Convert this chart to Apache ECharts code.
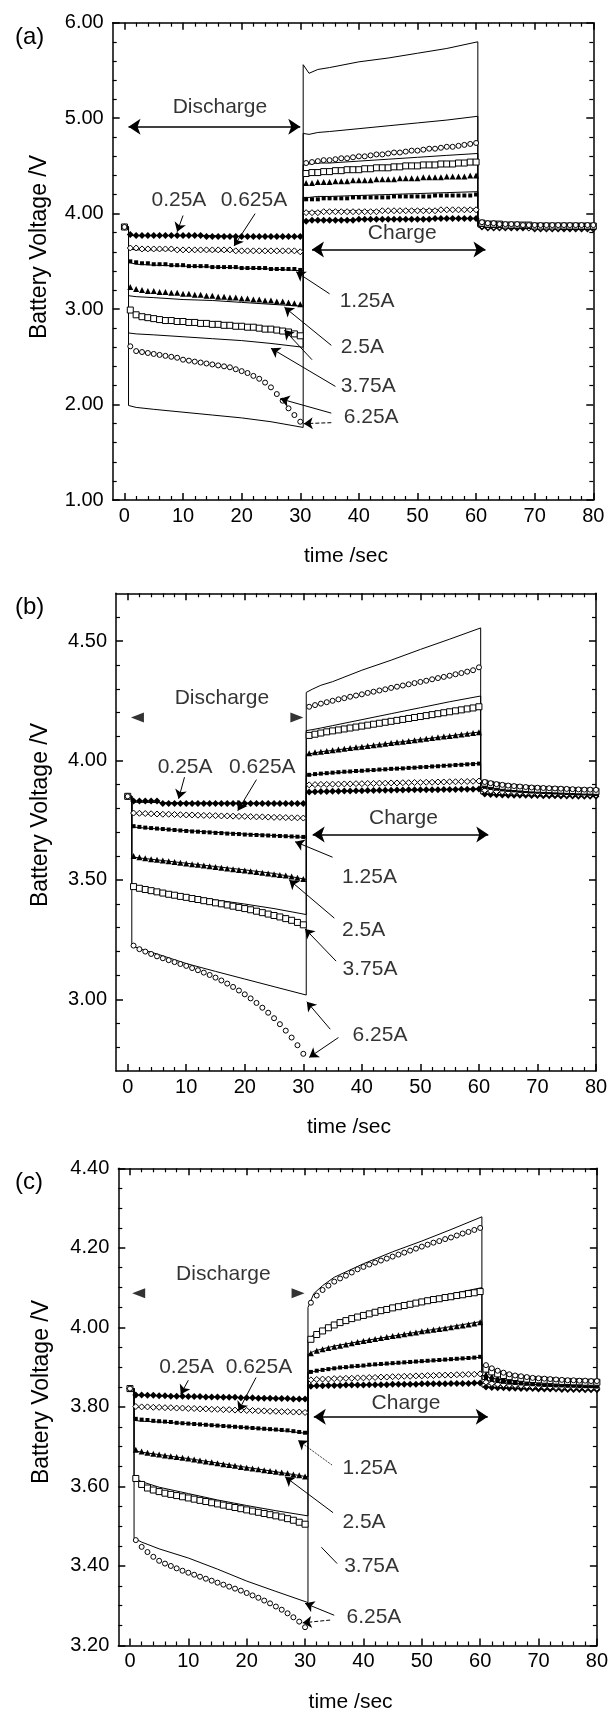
<!DOCTYPE html>
<html><head><meta charset="utf-8">
<script src="https://cdn.jsdelivr.net/npm/echarts@6/dist/echarts.min.js"></script>
<style>html,body{margin:0;padding:0;background:#fff}#c{width:611px;height:1714px}</style>
</head><body><div id="c"></div>
<script>
// ---------- tick arrays ----------
const xMajor = [0,10,20,30,40,50,60,70,80];
const xMinor = [2,4,6,8,12,14,16,18,22,24,26,28,32,34,36,38,42,44,46,48,52,54,56,58,62,64,66,68,72,74,76,78];
const yMajorA = [1,2,3,4,5,6];
const yMinorA = [1.2,1.4,1.6,1.8,2.2,2.4,2.6,2.8,3.2,3.4,3.6,3.8,4.2,4.4,4.6,4.8,5.2,5.4,5.6,5.8];
const yMajorB = [3.0,3.5,4.0,4.5];
const yMinorB = [2.8,2.9,3.1,3.2,3.3,3.4,3.6,3.7,3.8,3.9,4.1,4.2,4.3,4.4,4.6];
const yMajorC = [3.2,3.4,3.6,3.8,4.0,4.2,4.4];
const yMinorC = [3.25,3.3,3.35,3.45,3.5,3.55,3.65,3.7,3.75,3.85,3.9,3.95,4.05,4.1,4.15,4.25,4.3,4.35];

// ---------- categories ----------
const currents = ['0.25A','0.625A','1.25A','2.5A','3.75A','6.25A'];

// experimental sample times (discharge 1-30, charge 31-60, rest 61-80)
const tExp = [1,2,3,4,5,6,7,8,9,10,11,12,13,14,15,16,17,18,19,20,21,22,23,24,25,26,27,28,29,30,
  31,32,33,34,35,36,37,38,39,40,41,42,43,44,45,46,47,48,49,50,51,52,53,54,55,56,57,58,59,60,
  61,62,63,64,65,66,67,68,69,70,71,72,73,74,75,76,77,78,79,80];
// simulation vertex times
const simT = [0,0.7,0.7,2,5,10,15,20,25,30.5,30.5,31.5,33,35,40,45,50,55,60.3,60.3,62,65,70,80];

// ---------- panel (a) ----------
const startA = 3.86;
const A_025 = [3.78,3.77,3.77,3.77,3.77,3.77,3.77,3.77,3.77,3.77, 3.77,3.77,3.77,3.76,3.76,3.76,3.76,3.76,3.76,3.76, 3.76,3.76,3.76,3.76,3.76,3.76,3.76,3.76,3.76,3.76,
  3.92,3.93,3.93,3.93,3.93,3.93,3.93,3.93,3.93,3.94, 3.94,3.94,3.94,3.94,3.94,3.94,3.94,3.94,3.94,3.94, 3.94,3.94,3.95,3.95,3.95,3.95,3.95,3.95,3.95,3.95,
  3.86,3.85,3.85,3.85,3.85,3.85,3.85,3.85,3.85,3.84, 3.84,3.84,3.84,3.84,3.84,3.84,3.84,3.84,3.84,3.84];
const A_0625 = [3.64,3.64,3.63,3.63,3.63,3.63,3.63,3.63,3.62,3.62, 3.62,3.62,3.62,3.62,3.62,3.62,3.62,3.62,3.61,3.61, 3.61,3.61,3.61,3.61,3.61,3.61,3.61,3.61,3.61,3.60,
  4.01,4.01,4.01,4.02,4.02,4.02,4.02,4.02,4.02,4.02, 4.02,4.02,4.02,4.03,4.03,4.03,4.03,4.03,4.03,4.03, 4.03,4.03,4.03,4.04,4.04,4.04,4.04,4.04,4.04,4.04,
  3.87,3.86,3.86,3.86,3.86,3.86,3.86,3.86,3.85,3.85, 3.85,3.85,3.85,3.85,3.85,3.85,3.85,3.85,3.85,3.85];
const A_125 = [3.50,3.49,3.48,3.48,3.47,3.47,3.47,3.46,3.46,3.46, 3.45,3.45,3.45,3.45,3.44,3.44,3.44,3.44,3.44,3.43, 3.43,3.43,3.43,3.43,3.42,3.42,3.42,3.42,3.42,3.41,
  4.15,4.15,4.15,4.16,4.16,4.16,4.16,4.16,4.17,4.17, 4.17,4.17,4.17,4.17,4.17,4.18,4.18,4.18,4.18,4.18, 4.18,4.18,4.19,4.19,4.19,4.19,4.19,4.19,4.19,4.20,
  3.88,3.87,3.87,3.87,3.87,3.86,3.86,3.86,3.86,3.86, 3.86,3.86,3.86,3.86,3.86,3.86,3.86,3.86,3.86,3.86];
const A_25 = [3.23,3.21,3.20,3.19,3.19,3.18,3.18,3.17,3.17,3.16, 3.16,3.15,3.15,3.14,3.14,3.13,3.13,3.12,3.12,3.11, 3.11,3.10,3.10,3.09,3.09,3.08,3.08,3.07,3.06,3.05,
  4.32,4.32,4.33,4.33,4.33,4.34,4.34,4.34,4.35,4.35, 4.35,4.35,4.36,4.36,4.36,4.36,4.37,4.37,4.37,4.37, 4.38,4.38,4.38,4.38,4.39,4.39,4.39,4.39,4.40,4.40,
  3.89,3.88,3.88,3.88,3.88,3.87,3.87,3.87,3.87,3.87, 3.87,3.87,3.87,3.87,3.86,3.86,3.86,3.86,3.86,3.86];
const A_375 = [2.99,2.94,2.92,2.91,2.90,2.89,2.88,2.88,2.87,2.87, 2.86,2.86,2.85,2.85,2.84,2.84,2.83,2.83,2.82,2.82, 2.81,2.81,2.80,2.79,2.79,2.78,2.77,2.76,2.74,2.72,
  4.42,4.43,4.43,4.44,4.44,4.45,4.45,4.46,4.46,4.46, 4.47,4.47,4.48,4.48,4.48,4.49,4.49,4.50,4.50,4.50, 4.51,4.51,4.51,4.52,4.52,4.52,4.53,4.53,4.54,4.54,
  3.90,3.89,3.89,3.89,3.88,3.88,3.88,3.88,3.88,3.87, 3.87,3.87,3.87,3.87,3.87,3.87,3.87,3.87,3.87,3.87];
const A_625 = [2.61,2.56,2.55,2.54,2.53,2.52,2.51,2.50,2.49,2.47, 2.46,2.45,2.44,2.43,2.42,2.41,2.40,2.39,2.37,2.35, 2.33,2.30,2.27,2.23,2.18,2.11,2.04,1.96,1.89,1.82,
  4.53,4.54,4.55,4.56,4.56,4.57,4.58,4.58,4.59,4.60, 4.60,4.61,4.62,4.62,4.63,4.64,4.64,4.65,4.66,4.66, 4.67,4.68,4.68,4.69,4.70,4.70,4.71,4.72,4.73,4.74,
  3.91,3.90,3.90,3.89,3.89,3.89,3.89,3.88,3.88,3.88, 3.88,3.88,3.88,3.88,3.88,3.88,3.88,3.88,3.88,3.88];
const AS_025 = [3.86,3.86,3.77,3.77,3.77,3.77,3.77,3.76,3.76,3.76, 3.93,3.93,3.93,3.93,3.94,3.94,3.94,3.95,3.95, 3.86,3.85,3.85,3.84,3.84];
const AS_0625 = [3.86,3.86,3.63,3.62,3.62,3.62,3.61,3.61,3.61,3.60, 4.02,4.02,4.02,4.03,4.03,4.03,4.04,4.04,4.05, 3.87,3.86,3.86,3.85,3.85];
const AS_125 = [3.86,3.86,3.49,3.47,3.46,3.45,3.44,3.43,3.42,3.40, 4.17,4.17,4.18,4.18,4.19,4.20,4.21,4.22,4.23, 3.88,3.87,3.86,3.86,3.86];
const AS_25 = [3.86,3.86,3.14,3.13,3.12,3.10,3.09,3.07,3.05,3.03, 4.51,4.52,4.53,4.53,4.55,4.57,4.59,4.61,4.63, 3.89,3.88,3.87,3.87,3.86];
const AS_375 = [3.86,3.86,2.75,2.74,2.73,2.71,2.69,2.67,2.64,2.60, 4.84,4.83,4.85,4.86,4.89,4.92,4.95,4.98,5.02, 3.90,3.89,3.88,3.87,3.87];
const AS_625 = [3.86,3.86,1.99,1.97,1.95,1.92,1.89,1.86,1.82,1.76, 5.56,5.47,5.51,5.53,5.59,5.63,5.68,5.73,5.80, 3.91,3.90,3.89,3.88,3.88];

// ---------- panel (b) ----------
const startB = 3.85;
const B_025 = [3.83,3.83,3.83,3.83,3.83,3.82,3.82,3.82,3.82,3.82, 3.82,3.82,3.82,3.82,3.82,3.82,3.82,3.82,3.82,3.82, 3.82,3.82,3.82,3.82,3.82,3.82,3.82,3.82,3.82,3.82,
  3.868,3.869,3.870,3.870,3.871,3.871,3.872,3.872,3.873,3.873, 3.874,3.874,3.875,3.875,3.875,3.876,3.876,3.877,3.877,3.877, 3.878,3.878,3.878,3.879,3.879,3.879,3.880,3.880,3.880,3.881,
  3.860,3.858,3.857,3.856,3.855,3.855,3.854,3.854,3.853,3.853, 3.852,3.852,3.852,3.851,3.851,3.851,3.850,3.850,3.850,3.850];
const B_0625 = [3.780,3.779,3.778,3.777,3.776,3.775,3.775,3.774,3.773,3.772, 3.772,3.771,3.770,3.770,3.769,3.768,3.768,3.767,3.766,3.766, 3.765,3.764,3.764,3.763,3.762,3.762,3.761,3.760,3.760,3.759,
  3.898,3.899,3.900,3.900,3.901,3.901,3.902,3.902,3.903,3.903, 3.904,3.904,3.905,3.905,3.906,3.906,3.907,3.907,3.908,3.908, 3.909,3.909,3.910,3.910,3.911,3.911,3.912,3.912,3.913,3.914,
  3.875,3.872,3.870,3.868,3.867,3.866,3.865,3.864,3.863,3.862, 3.861,3.860,3.860,3.859,3.858,3.858,3.857,3.857,3.856,3.856];
const B_125 = [3.725,3.722,3.719,3.717,3.715,3.713,3.711,3.709,3.707,3.705, 3.703,3.702,3.700,3.699,3.697,3.696,3.694,3.693,3.692,3.690, 3.689,3.688,3.687,3.686,3.685,3.684,3.683,3.682,3.681,3.680,
  3.940,3.943,3.945,3.947,3.949,3.951,3.953,3.954,3.956,3.957, 3.959,3.960,3.962,3.963,3.965,3.966,3.967,3.969,3.970,3.972, 3.973,3.975,3.976,3.978,3.979,3.981,3.982,3.984,3.985,3.987,
  3.890,3.885,3.882,3.879,3.877,3.875,3.873,3.872,3.870,3.869, 3.868,3.867,3.866,3.865,3.864,3.863,3.862,3.862,3.861,3.860];
const B_25 = [3.600,3.595,3.591,3.587,3.584,3.581,3.578,3.575,3.572,3.569, 3.566,3.563,3.560,3.557,3.554,3.551,3.548,3.545,3.542,3.539, 3.536,3.533,3.530,3.527,3.524,3.521,3.518,3.514,3.509,3.504,
  4.030,4.034,4.037,4.040,4.043,4.046,4.049,4.052,4.055,4.058, 4.061,4.064,4.067,4.070,4.073,4.076,4.079,4.082,4.085,4.088, 4.091,4.094,4.097,4.100,4.103,4.106,4.109,4.112,4.115,4.118,
  3.900,3.895,3.891,3.887,3.884,3.882,3.880,3.878,3.877,3.875, 3.874,3.873,3.872,3.871,3.870,3.869,3.868,3.868,3.867,3.866];
const B_375 = [3.472,3.465,3.460,3.455,3.450,3.445,3.440,3.436,3.431,3.427, 3.422,3.418,3.413,3.409,3.404,3.400,3.395,3.390,3.385,3.380, 3.375,3.369,3.363,3.357,3.351,3.345,3.338,3.331,3.322,3.312,
  4.105,4.110,4.115,4.120,4.124,4.128,4.132,4.136,4.140,4.144, 4.148,4.152,4.156,4.160,4.164,4.168,4.172,4.176,4.180,4.184, 4.188,4.192,4.196,4.200,4.204,4.208,4.212,4.216,4.220,4.225,
  3.905,3.900,3.896,3.892,3.889,3.887,3.885,3.883,3.881,3.880, 3.879,3.878,3.877,3.876,3.875,3.874,3.873,3.872,3.872,3.871];
const B_625 = [3.225,3.210,3.200,3.190,3.180,3.172,3.164,3.156,3.148,3.140, 3.131,3.122,3.112,3.102,3.091,3.079,3.066,3.052,3.037,3.021, 3.004,2.985,2.965,2.944,2.921,2.896,2.869,2.840,2.808,2.772,
  4.225,4.232,4.238,4.244,4.250,4.256,4.261,4.267,4.272,4.277, 4.283,4.288,4.293,4.298,4.304,4.309,4.314,4.319,4.324,4.329, 4.334,4.340,4.345,4.350,4.355,4.361,4.366,4.372,4.378,4.390,
  3.910,3.905,3.901,3.898,3.895,3.893,3.891,3.889,3.887,3.886, 3.885,3.884,3.883,3.882,3.881,3.880,3.879,3.878,3.878,3.877];
const BS_025 = [3.85,3.85,3.825,3.825,3.824,3.823,3.822,3.822,3.821,3.820, 3.868,3.869,3.870,3.871,3.873,3.875,3.877,3.879,3.881, 3.860,3.857,3.855,3.852,3.850];
const BS_0625 = [3.85,3.85,3.778,3.777,3.775,3.772,3.769,3.766,3.762,3.758, 3.895,3.896,3.897,3.899,3.902,3.905,3.908,3.911,3.914, 3.872,3.868,3.864,3.860,3.856];
const BS_125 = [3.85,3.85,3.722,3.719,3.714,3.706,3.699,3.692,3.686,3.678, 3.938,3.940,3.944,3.948,3.956,3.964,3.972,3.980,3.988, 3.888,3.882,3.876,3.869,3.860];
const BS_25 = [3.85,3.85,3.597,3.592,3.584,3.570,3.556,3.542,3.527,3.502, 4.025,4.030,4.037,4.042,4.058,4.073,4.088,4.103,4.120, 3.900,3.892,3.885,3.876,3.866];
const BS_375 = [3.85,3.85,3.465,3.460,3.450,3.433,3.416,3.399,3.380,3.355, 4.125,4.129,4.136,4.146,4.171,4.196,4.221,4.246,4.270, 3.905,3.897,3.889,3.880,3.871];
const BS_625 = [3.85,3.85,3.225,3.212,3.190,3.150,3.117,3.085,3.053,3.018, 4.285,4.298,4.315,4.330,4.378,4.420,4.465,4.508,4.555, 3.915,3.905,3.895,3.885,3.878];

// ---------- panel (c) ----------
const startC = 3.846;
const C_025 = [3.830,3.830,3.829,3.829,3.828,3.828,3.827,3.827,3.827,3.826, 3.826,3.826,3.825,3.825,3.825,3.824,3.824,3.824,3.823,3.823, 3.823,3.822,3.822,3.822,3.821,3.821,3.821,3.820,3.820,3.820,
  3.852,3.853,3.853,3.854,3.854,3.854,3.855,3.855,3.855,3.855, 3.856,3.856,3.856,3.856,3.857,3.857,3.857,3.857,3.857,3.858, 3.858,3.858,3.858,3.858,3.859,3.859,3.859,3.859,3.860,3.860,
  3.850,3.849,3.848,3.848,3.847,3.847,3.846,3.846,3.846,3.845, 3.845,3.845,3.845,3.844,3.844,3.844,3.844,3.843,3.843,3.843];
const C_0625 = [3.801,3.800,3.800,3.799,3.799,3.798,3.798,3.797,3.797,3.796, 3.796,3.795,3.795,3.794,3.794,3.793,3.793,3.792,3.792,3.791, 3.791,3.790,3.790,3.789,3.789,3.788,3.788,3.787,3.787,3.786,
  3.868,3.869,3.870,3.870,3.871,3.871,3.872,3.872,3.873,3.873, 3.874,3.874,3.875,3.875,3.876,3.876,3.877,3.877,3.878,3.878, 3.879,3.879,3.880,3.880,3.880,3.881,3.881,3.882,3.882,3.883,
  3.862,3.859,3.857,3.856,3.855,3.854,3.853,3.852,3.851,3.851, 3.850,3.850,3.849,3.849,3.848,3.848,3.848,3.847,3.847,3.847];
const C_125 = [3.770,3.768,3.767,3.765,3.764,3.763,3.762,3.760,3.759,3.758, 3.757,3.756,3.755,3.754,3.753,3.752,3.751,3.750,3.749,3.748, 3.747,3.746,3.745,3.744,3.743,3.742,3.741,3.739,3.737,3.735,
  3.888,3.891,3.893,3.895,3.897,3.899,3.900,3.902,3.903,3.904, 3.906,3.907,3.908,3.909,3.910,3.911,3.912,3.913,3.914,3.915, 3.916,3.917,3.918,3.919,3.920,3.921,3.922,3.923,3.924,3.926,
  3.872,3.868,3.865,3.863,3.861,3.860,3.859,3.858,3.857,3.856, 3.855,3.855,3.854,3.854,3.853,3.853,3.852,3.852,3.852,3.851];
const C_25 = [3.692,3.688,3.685,3.682,3.680,3.678,3.676,3.674,3.672,3.670, 3.668,3.665,3.663,3.661,3.658,3.656,3.654,3.652,3.649,3.647, 3.645,3.643,3.641,3.639,3.637,3.635,3.633,3.630,3.628,3.625,
  3.935,3.941,3.945,3.948,3.951,3.954,3.957,3.960,3.963,3.966, 3.968,3.971,3.973,3.976,3.978,3.980,3.983,3.985,3.987,3.990, 3.992,3.994,3.996,3.998,4.000,4.003,4.005,4.007,4.010,4.013,
  3.882,3.877,3.873,3.870,3.868,3.866,3.865,3.864,3.863,3.862, 3.861,3.860,3.860,3.859,3.859,3.858,3.858,3.857,3.857,3.857];
const C_375 = [3.620,3.605,3.596,3.591,3.587,3.583,3.580,3.577,3.574,3.571, 3.568,3.565,3.562,3.559,3.556,3.553,3.550,3.547,3.544,3.541, 3.538,3.535,3.532,3.529,3.526,3.523,3.519,3.515,3.510,3.505,
  3.970,3.982,3.991,3.999,4.006,4.012,4.017,4.022,4.026,4.030, 4.034,4.038,4.042,4.045,4.049,4.052,4.055,4.058,4.061,4.064, 4.067,4.070,4.072,4.075,4.077,4.080,4.082,4.085,4.087,4.090,
  3.895,3.888,3.883,3.879,3.876,3.874,3.872,3.870,3.869,3.868, 3.867,3.866,3.865,3.864,3.864,3.863,3.863,3.862,3.862,3.862];
const C_625 = [3.465,3.448,3.435,3.423,3.413,3.406,3.400,3.394,3.388,3.383, 3.378,3.373,3.368,3.363,3.358,3.353,3.348,3.343,3.338,3.332, 3.326,3.320,3.313,3.306,3.298,3.290,3.281,3.271,3.260,3.246,
  4.062,4.080,4.094,4.105,4.115,4.123,4.130,4.138,4.146,4.152, 4.158,4.163,4.168,4.173,4.178,4.183,4.188,4.193,4.198,4.203, 4.208,4.213,4.217,4.222,4.226,4.231,4.236,4.240,4.245,4.250,
  3.905,3.897,3.891,3.886,3.882,3.879,3.877,3.875,3.873,3.872, 3.871,3.870,3.869,3.868,3.867,3.867,3.866,3.866,3.865,3.865];
const CS_025 = [3.846,3.846,3.830,3.829,3.828,3.826,3.825,3.823,3.822,3.820, 3.852,3.853,3.854,3.855,3.856,3.857,3.858,3.859,3.860, 3.850,3.848,3.847,3.845,3.843];
const CS_0625 = [3.846,3.846,3.800,3.799,3.798,3.796,3.794,3.792,3.790,3.786, 3.866,3.868,3.870,3.872,3.874,3.876,3.878,3.880,3.882, 3.860,3.856,3.853,3.850,3.847];
const CS_125 = [3.846,3.846,3.766,3.764,3.762,3.758,3.753,3.748,3.742,3.733, 3.885,3.889,3.893,3.897,3.903,3.909,3.914,3.919,3.925, 3.870,3.864,3.859,3.856,3.851];
const CS_25 = [3.846,3.846,3.690,3.686,3.680,3.670,3.659,3.648,3.637,3.624, 3.932,3.940,3.946,3.953,3.966,3.978,3.990,4.002,4.015, 3.880,3.872,3.866,3.862,3.857];
const CS_375 = [3.846,3.846,3.620,3.612,3.598,3.582,3.566,3.552,3.539,3.526, 3.968,3.982,3.996,4.008,4.030,4.050,4.068,4.084,4.100, 3.893,3.882,3.874,3.868,3.862];
const CS_625 = [3.846,3.846,3.470,3.460,3.443,3.420,3.392,3.362,3.336,3.308, 4.050,4.085,4.105,4.126,4.160,4.190,4.217,4.246,4.278, 3.905,3.892,3.882,3.874,3.866];

// ---------- build ----------
const FONT = '"Liberation Sans", Arial, Helvetica, sans-serif';
const BLACK = '#000';
const markerStyles = [
  {symbol:'diamond', size:7, fill:BLACK},
  {symbol:'diamond', size:6, fill:'#fff'},
  {symbol:'rect', size:4, fill:BLACK},
  {symbol:'triangle', size:6, fill:BLACK},
  {symbol:'rect', size:6, fill:'#fff'},
  {symbol:'circle', size:5, fill:'#fff'}
];

const panels = [
  {label:'(a)', labelTop:20, yTitleX:40, yTitleY:247, grid:{left:112.7, top:22.7, width:480.6, height:477.3},
   yMin:1, yMax:6, yMajor:yMajorA, yMinor:yMinorA, start:startA,
   exp:[A_025,A_0625,A_125,A_25,A_375,A_625], sim:[AS_025,AS_0625,AS_125,AS_25,AS_375,AS_625],
   texts:[['Discharge',16.3,5.11],['0.25A',9.3,4.14],['0.625A',22.1,4.14],['Charge',47.4,3.80],
          ['1.25A',41.4,3.08],['2.5A',40.6,2.60],['3.75A',41.6,2.19],['6.25A',42.1,1.87]],
   arrows:[[10.0,3.98,9.0,3.81,'solid'],[22.3,4.00,18.7,3.66,'solid'],[35.0,3.16,29.3,3.39,'solid'],
           [35.3,2.62,27.3,3.02,'solid'],[36.0,2.19,25.0,2.59,'solid'],[32.0,2.47,27.3,2.78,'solid'],
           [35.3,1.91,26.6,2.06,'solid'],[35.3,1.81,30.6,1.80,'dashed']],
   doubles:[[0.7,4.91,30.0,4.91],[32.0,3.625,61.6,3.625]],
   plain:[], heads:[]},
  {label:'(b)', labelTop:590, yTitleX:41, yTitleY:815, grid:{left:116, top:593.3, width:480, height:477.7},
   yMin:2.7, yMax:4.7, yMajor:yMajorB, yMinor:yMinorB, start:startB,
   exp:[B_025,B_0625,B_125,B_25,B_375,B_625], sim:[BS_025,BS_0625,BS_125,BS_25,BS_375,BS_625],
   texts:[['Discharge',16.1,4.26],['0.25A',9.8,3.97],['0.625A',23.0,3.97],['Charge',47.1,3.76],
          ['1.25A',41.3,3.51],['2.5A',40.3,3.29],['3.75A',41.4,3.125],['6.25A',43.1,2.85]],
   arrows:[[9.7,3.93,8.7,3.84,'solid'],[22.0,3.92,18.8,3.79,'solid'],[35.0,3.595,28.6,3.66,'solid'],
           [35.3,3.34,27.6,3.50,'solid'],[35.6,3.16,30.3,3.295,'solid'],
           [34.6,2.875,30.6,2.99,'solid'],[36.0,2.84,31.0,2.757,'solid']],
   doubles:[[31.6,3.69,61.6,3.69]],
   plain:[], heads:[[1.66,4.18,90],[28.9,4.18,-90]]},
  {label:'(c)', labelTop:1165, yTitleX:42, yTitleY:1392, grid:{left:118.3, top:1168.3, width:480, height:477.2},
   yMin:3.2, yMax:4.4, yMajor:yMajorC, yMinor:yMinorC, start:startC,
   exp:[C_025,C_0625,C_125,C_25,C_375,C_625], sim:[CS_025,CS_0625,CS_125,CS_25,CS_375,CS_625],
   texts:[['Discharge',16.0,4.134],['0.25A',9.7,3.90],['0.625A',22.1,3.90],['Charge',47.3,3.81],
          ['1.25A',41.1,3.645],['2.5A',40.1,3.511],['3.75A',41.4,3.40],['6.25A',41.8,3.27]],
   arrows:[[10.0,3.867,8.7,3.832,'solid'],[21.6,3.874,18.6,3.79,'solid'],[34.6,3.654,28.8,3.716,'dotted'],
           [34.8,3.534,26.6,3.624,'solid'],[35.0,3.276,30.0,3.306,'solid'],[34.3,3.264,29.6,3.257,'dashed']],
   doubles:[[31.5,3.775,61.3,3.775]],
   plain:[[35.5,3.406,32.8,3.447]], heads:[[1.49,4.086,90],[28.8,4.086,-90]]}
];

const option = {
  animation:false, backgroundColor:'#fff',
  textStyle:{fontFamily:FONT},
  title:[], grid:[], xAxis:[], yAxis:[], series:[], graphic:[]
};
const lineC = {color:BLACK, width:1.5};
panels.forEach((p, g) => {
  option.title.push({text:p.label, left:10, top:p.labelTop, textStyle:{fontSize:24, fontWeight:'normal', color:BLACK, fontFamily:FONT}});
  option.graphic.push({type:'text', x:p.yTitleX, y:p.yTitleY, rotation:Math.PI/2, silent:true,
    style:{text:'Battery Voltage /V', fill:BLACK, font:'23px ' + FONT, align:'center', verticalAlign:'middle'}});
  option.grid.push(Object.assign({containLabel:false}, p.grid));
  const xi = option.xAxis.length, yi = option.yAxis.length;
  const xb = {type:'value', gridIndex:g, min:-2, max:80, splitLine:{show:false}};
  option.xAxis.push(Object.assign({}, xb, {position:'bottom',
    axisLine:{show:true, onZero:false, lineStyle:lineC},
    axisTick:{show:true, inside:true, length:7, customValues:xMajor, lineStyle:lineC},
    axisLabel:{show:true, customValues:xMajor, margin:6, color:BLACK, fontSize:20, fontFamily:FONT},
    name:'time /sec', nameLocation:'middle', nameGap:46,
    nameTextStyle:{fontSize:21, color:BLACK, fontFamily:FONT, padding:[0,14,0,0]}}));
  option.xAxis.push(Object.assign({}, xb, {position:'bottom', axisLine:{show:false, onZero:false},
    axisTick:{show:true, inside:true, length:4, customValues:xMinor, lineStyle:{color:BLACK, width:1.2}}, axisLabel:{show:false}}));
  option.xAxis.push(Object.assign({}, xb, {position:'top', axisLine:{show:true, onZero:false, lineStyle:lineC},
    axisTick:{show:true, inside:true, length:7, customValues:xMajor, lineStyle:lineC}, axisLabel:{show:false}}));
  option.xAxis.push(Object.assign({}, xb, {position:'top', axisLine:{show:false, onZero:false},
    axisTick:{show:true, inside:true, length:4, customValues:xMinor, lineStyle:{color:BLACK, width:1.2}}, axisLabel:{show:false}}));
  const yb = {type:'value', gridIndex:g, min:p.yMin, max:p.yMax, splitLine:{show:false}};
  option.yAxis.push(Object.assign({}, yb, {position:'left',
    axisLine:{show:true, onZero:false, lineStyle:lineC},
    axisTick:{show:true, inside:true, length:7, customValues:p.yMajor, lineStyle:lineC},
    axisLabel:{show:true, customValues:p.yMajor, margin:9, color:BLACK, fontSize:20, fontFamily:FONT, formatter:v => Number(v).toFixed(2)}}));
  option.yAxis.push(Object.assign({}, yb, {position:'left', axisLine:{show:false, onZero:false},
    axisTick:{show:true, inside:true, length:4, customValues:p.yMinor, lineStyle:{color:BLACK, width:1.2}}, axisLabel:{show:false}}));
  option.yAxis.push(Object.assign({}, yb, {position:'right', axisLine:{show:true, onZero:false, lineStyle:lineC},
    axisTick:{show:true, inside:true, length:7, customValues:p.yMajor, lineStyle:lineC}, axisLabel:{show:false}}));
  option.yAxis.push(Object.assign({}, yb, {position:'right', axisLine:{show:false, onZero:false},
    axisTick:{show:true, inside:true, length:4, customValues:p.yMinor, lineStyle:{color:BLACK, width:1.2}}, axisLabel:{show:false}}));

  // simulation lines
  currents.forEach((c, k) => {
    option.series.push({type:'line', name:c + ' calc', xAxisIndex:xi, yAxisIndex:yi,
      data: simT.map((t, i) => [t, p.sim[k][i]]), showSymbol:false, symbol:'none',
      lineStyle:{color:BLACK, width:1}, z:2, silent:true});
  });
  // experimental markers
  currents.forEach((c, k) => {
    const ms = markerStyles[k];
    option.series.push({type:'scatter', name:c + ' exp', xAxisIndex:xi, yAxisIndex:yi,
      data: [[0, p.start]].concat(tExp.map((t, i) => [t, p.exp[k][i]])),
      symbol:ms.symbol, symbolSize:ms.size,
      itemStyle:{color:ms.fill, borderColor:BLACK, borderWidth:ms.fill === BLACK ? 0 : 1, opacity:1}, z:3, silent:true});
  });
  // annotations
  option.series.push({type:'scatter', xAxisIndex:xi, yAxisIndex:yi, symbolSize:1, silent:true, z:5,
    itemStyle:{color:'rgba(0,0,0,0)'},
    label:{show:true, position:'inside', formatter:'{b}', color:BLACK, fontSize:21, fontFamily:FONT},
    data:p.texts.map(a => ({name:a[0], value:[a[1], a[2]]}))});
  option.series.push({type:'lines', coordinateSystem:'cartesian2d', xAxisIndex:xi, yAxisIndex:yi, silent:true, z:4,
    symbol:['none','arrow'], symbolSize:9, lineStyle:{color:BLACK, width:1, opacity:1},
    data:p.arrows.map(a => ({coords:[[a[0],a[1]],[a[2],a[3]]], lineStyle:{type:a[4]}}))});
  option.series.push({type:'lines', coordinateSystem:'cartesian2d', xAxisIndex:xi, yAxisIndex:yi, silent:true, z:4,
    symbol:['arrow','arrow'], symbolSize:12, lineStyle:{color:BLACK, width:1.5, opacity:1},
    data:p.doubles.map(a => ({coords:[[a[0],a[1]],[a[2],a[3]]]}))});
  if (p.plain.length) option.series.push({type:'lines', coordinateSystem:'cartesian2d', xAxisIndex:xi, yAxisIndex:yi, silent:true, z:4,
    symbol:'none', lineStyle:{color:BLACK, width:1, opacity:1},
    data:p.plain.map(a => ({coords:[[a[0],a[1]],[a[2],a[3]]]}))});
  if (p.heads.length) option.series.push({type:'scatter', xAxisIndex:xi, yAxisIndex:yi, silent:true, z:4,
    symbol:'triangle', symbolSize:[10,13], itemStyle:{color:BLACK},
    data:p.heads.map(a => ({value:[a[0], a[1]], symbolRotate:a[2]}))});
});

const chart = echarts.init(document.getElementById('c'), null, {renderer:'canvas', width:611, height:1714});
chart.setOption(option);
</script></body></html>
